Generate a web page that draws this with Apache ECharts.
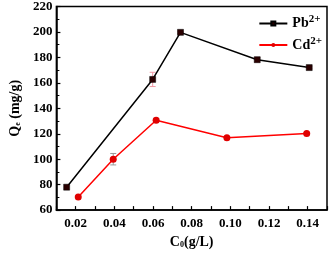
<!DOCTYPE html>
<html><head><meta charset="utf-8">
<script src="https://cdn.jsdelivr.net/npm/echarts@6/dist/echarts.min.js"></script>
<style>html,body{margin:0;padding:0;background:#fff}#c{width:331px;height:254px}</style>
</head><body><div id="c"></div>
<script>
var pbX = [0.0153, 0.0598, 0.0742, 0.1139, 0.1408];
var pbY = [78.0, 162.7, 199.7, 178.2, 172.0];
var pbErr = [0, 5.6, 0.8, 1.8, 0.8];
var cdX = [0.0213, 0.0394, 0.0616, 0.0982, 0.1395];
var cdY = [70.3, 100.0, 130.6, 116.9, 120.1];
var cdErr = [0, 4.5, 1.5, 0.8, 0.8];
var xTicks = [0.02, 0.04, 0.06, 0.08, 0.10, 0.12, 0.14];
var yTicks = [60, 80, 100, 120, 140, 160, 180, 200, 220];

var font = 'Liberation Serif';
function pts(xs, ys){ return xs.map(function(x,i){return [x, ys[i]];}); }
function errData(xs, ys, es){ return xs.map(function(x,i){return [x, ys[i]-es[i], ys[i]+es[i]];}).filter(function(d,i){return es[i]>0;}); }
function errSeries(data, color){
  return {
    type:'custom', data:data, z:1, silent:true,
    renderItem:function(params, api){
      var x = api.value(0);
      var lo = api.coord([x, api.value(1)]);
      var hi = api.coord([x, api.value(2)]);
      var w = 3;
      var st = {stroke:color, lineWidth:1};
      return {type:'group', children:[
        {type:'line', shape:{x1:lo[0],y1:lo[1],x2:hi[0],y2:hi[1]}, style:st},
        {type:'line', shape:{x1:lo[0]-w,y1:lo[1],x2:lo[0]+w,y2:lo[1]}, style:st},
        {type:'line', shape:{x1:hi[0]-w,y1:hi[1],x2:hi[0]+w,y2:hi[1]}, style:st}
      ]};
    },
    encode:{x:0, y:[1,2]}
  };
}
var chart = echarts.init(document.getElementById('c'), null, {renderer:'canvas'});
var axisLine = {lineStyle:{color:'#000', width:1.5}};
chart.setOption({
  animation:false,
  textStyle:{fontFamily:font},
  grid:{left:43, right:4, top:6, bottom:35, show:true, borderColor:'#000', borderWidth:1.5},
  legend:{
    orient:'vertical', right:4, top:9, itemWidth:28, itemHeight:5, itemGap:5, padding:[5,5,5,5],
    data:['Pb','Cd'],
    formatter:function(n){ return '{b|'+n+'}{s|2+}'; },
    textStyle:{fontFamily:font, fontWeight:'bold', fontSize:14, color:'#000',
      rich:{b:{fontFamily:font, fontWeight:'bold', fontSize:14, color:'#000'},
            s:{fontFamily:font, fontWeight:'bold', fontSize:11, color:'#000', verticalAlign:'top', padding:[0,0,8,0]}}}
  },
  xAxis:{
    type:'value', min:0.01, max:0.15, interval:0.01,
    name:'{b|C}{s|0}{b|(g/L)}', nameLocation:'middle', nameGap:22,
    nameTextStyle:{rich:{b:{fontFamily:font, fontWeight:'bold', fontSize:14, color:'#000'},
                         s:{fontFamily:font, fontWeight:'bold', fontSize:8, color:'#000', verticalAlign:'bottom', padding:[6,0,0,0]}}},
    axisLine:axisLine,
    axisTick:{inside:true, length:4, lineStyle:{color:'#000', width:1.2}},
    splitLine:{show:false},
    axisLabel:{margin:7, color:'#000', fontFamily:font, fontWeight:'bold', fontSize:13,
      formatter:function(v){ var k=Math.round(v*100); if(k%2!==0) return ''; for(var i=0;i<xTicks.length;i++){ if(Math.round(xTicks[i]*100)===k) return xTicks[i].toFixed(2);} return ''; }}
  },
  yAxis:{
    type:'value', min:yTicks[0], max:yTicks[yTicks.length-1], interval:20,
    name:'{b|Q}{s|e}{b| (mg/g)}', nameLocation:'middle', nameGap:31, nameRotate:90,
    nameTextStyle:{rich:{b:{fontFamily:font, fontWeight:'bold', fontSize:14, color:'#000'},
                         s:{fontFamily:font, fontWeight:'bold', fontSize:8, color:'#000', verticalAlign:'bottom', padding:[6,0,0,0]}}},
    axisLine:axisLine,
    axisTick:{inside:true, length:4, lineStyle:{color:'#000', width:1.2}},
    minorTick:{show:true, splitNumber:2, length:3, lineStyle:{color:'#000', width:1}},
    splitLine:{show:false},
    axisLabel:{margin:4, color:'#000', fontFamily:font, fontWeight:'bold', fontSize:13}
  },
  series:[
    errSeries(errData(pbX,pbY,pbErr), '#f39aa6'),
    errSeries(errData(cdX,cdY,cdErr), '#999999'),
    {name:'Pb', type:'line', data:pts(pbX,pbY), symbol:'rect', symbolSize:6,
     lineStyle:{color:'#000', width:1.5}, itemStyle:{color:'#2a0000', borderColor:'#000', borderWidth:0.5}, z:3},
    {name:'Cd', type:'line', data:pts(cdX,cdY), symbol:'circle', symbolSize:7,
     lineStyle:{color:'#ff0000', width:1.5}, itemStyle:{color:'#e00000'}, z:3}
  ]
});
</script></body></html>
